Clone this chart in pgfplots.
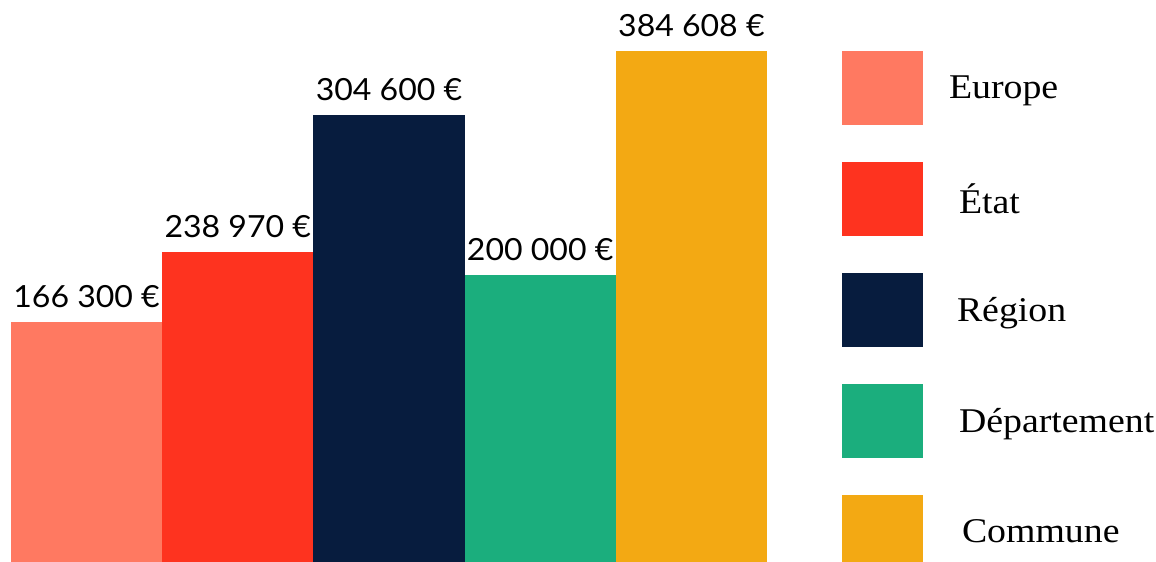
\documentclass[border=0pt]{standalone}
\usepackage{fontspec}
\usepackage{pgfplots}
\pgfplotsset{compat=1.18}
\setmainfont{Liberation Serif}
\newfontfamily\labelfont[FakeStretch=1.05]{Lato}
\newfontfamily\legfont[FakeStretch=1.09]{Liberation Serif}
\definecolor{cEurope}{HTML}{FF7961}
\definecolor{cEtat}{HTML}{FE331F}
\definecolor{cRegion}{HTML}{071C3E}
\definecolor{cDep}{HTML}{1BAE7D}
\definecolor{cCommune}{HTML}{F3A913}
\begin{document}
\begin{tikzpicture}
\useasboundingbox (0,0) rectangle (1156bp,562bp);
\begin{axis}[
  at={(11bp,0bp)}, anchor=south west,
  scale only axis, width=756bp, height=562bp,
  xmin=-0.5, xmax=4.5, ymin=0, ymax=562,
  axis lines=none, xtick=\empty, ytick=\empty,
  ybar, bar width=1, bar shift=0pt,
  every axis plot/.append style={draw=none},
  point meta=explicit symbolic,
  nodes near coords,
  nodes near coords style={anchor=base, inner sep=0pt, yshift=14bp,
     font=\labelfont\fontsize{30.5bp}{36bp}\selectfont, text=black},
  legend image code/.code={\fill[#1] (0bp,-37bp) rectangle (81bp,37bp);},
  legend style={at={(1.0992,0.9093)}, anchor=north west, draw=none, fill=none,
     inner sep=0pt, outer sep=0pt, row sep=37bp, column sep=26bp,
     nodes={inner sep=0pt, font=\legfont\fontsize{34.7bp}{40bp}\selectfont}},
  legend cell align=left,
]
\addplot[fill=cEurope] coordinates {(0,240) [166 300 €]};
\addplot[fill=cEtat] coordinates {(1,310) [238 970 €]};
\addplot[fill=cRegion] coordinates {(2,447) [304 600 €]};
\addplot[fill=cDep] coordinates {(3,287) [200 000 €]};
\addplot[fill=cCommune] coordinates {(4,511) [384 608 €]};
\legend{Europe, \hspace*{10bp}État, \hspace*{8bp}Région, \hspace*{10bp}Département, \hspace*{13bp}Commune}
\end{axis}
\end{tikzpicture}
\end{document}
